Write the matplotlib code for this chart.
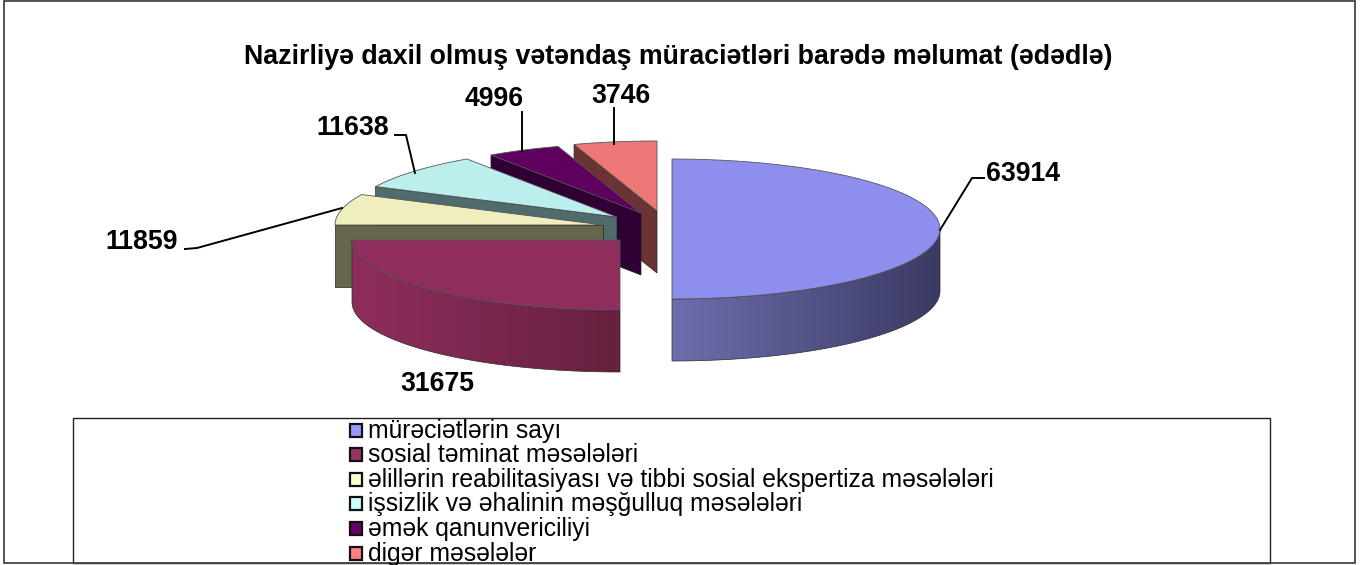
#!/usr/bin/env python3
# -*- coding: utf-8 -*-

"""Exploded pseudo-3D pie of citizen applications, drawn on a pixel-sized axes."""

import numpy as np
import matplotlib
matplotlib.use('Agg')
import matplotlib.pyplot as plt
from matplotlib.colors import LinearSegmentedColormap
from matplotlib.patches import Polygon, Rectangle

plt.rcParams['font.family'] = ['Liberation Sans', 'DejaVu Sans']

title = 'Nazirliyə daxil olmuş vətəndaş müraciətləri barədə məlumat (ədədlə)'
categories = [
    'mürəciətlərin sayı',
    'sosial təminat məsələləri',
    'əlillərin reabilitasiyası və tibbi sosial ekspertiza məsələləri',
    'işsizlik və əhalinin məşğulluq məsələləri',
    'əmək qanunvericiliyi',
    'digər məsələlər',
]
values = [63914, 31675, 11859, 11638, 4996, 3746]

# styling and layout, in pixels of the 1368x565 picture
legend_colors = ['#9999FF', '#993366', '#FFFFCC', '#CCFFFF', '#660066', '#FF8080']
top_colors = ['#8E8EEE', '#8F2D5C', '#EEEEBE', '#BDEEEE', '#5F005F', '#EE7777']
wall_colors = ['#3C3C66', '#6B2548', '#66664D', '#4F6B6B', '#2E0033', '#6B3333']
apex_x = [672, 620, 603, 617, 641, 657]
apex_y = [229, 240, 225, 217, 213, 211]
RX, RY, DEPTH = 268, 70, 62
label_xy = [(1023, 174), (437, 384), (142, 242), (353, 128), (494, 99), (621, 96)]
leaders = [
    [(940, 230), (972, 178), (984, 178)],
    None,
    [(185, 249), (197, 248), (342, 208)],
    [(395, 135), (406, 135), (415, 173)],
    [(522, 112), (522, 151)],
    [(614, 108), (614, 144)],
]
legend_y = [430, 454, 479, 503, 528, 553]


def warp(theta):
    """Back-left quadrant is stretched by the 3D view of the original chart."""
    theta = np.asarray(theta, dtype=float)
    back = 360 - np.minimum(theta, 360)
    stretched = 90 * (np.clip(back, 0, 90) / 90) ** 0.75
    return np.where(theta >= 269, 360 - stretched, theta)


def rim(cx, cy, start, end, n=80):
    t = np.radians(warp(np.linspace(start, end, n)))
    return np.column_stack([cx + RX * np.sin(t), cy - RY * np.cos(t)])


def shaded_wall(ax, pts, left, right, z):
    """Fill a polygon with a horizontal gradient."""
    cmap = LinearSegmentedColormap.from_list('wall', [left, right])
    x0, x1 = pts[:, 0].min(), pts[:, 0].max()
    y0, y1 = pts[:, 1].min(), pts[:, 1].max()
    im = ax.imshow(np.linspace(0, 1, 256)[None, :], cmap=cmap, aspect='auto',
                   extent=(x0, x1, y1, y0), zorder=z)
    clip = Polygon(pts, closed=True, transform=ax.transData)
    im.set_clip_path(clip)
    ax.add_patch(Polygon(pts, closed=True, fill=False, ec='#2a2a2a', lw=0.5, zorder=z + 0.1))


fig = plt.figure(figsize=(13.68, 5.65), dpi=100)
ax = fig.add_axes([0, 0, 1, 1])

edges = np.concatenate([[0], np.cumsum(values)]) / sum(values) * 360

# painter's order: the back slices first
for i in [5, 4, 3, 2, 1, 0]:
    z = 10 + (5 - i) * 2
    cx, cy = apex_x[i], apex_y[i]
    arc = rim(cx, cy, edges[i], edges[i + 1])
    if i == 0:
        lower = rim(cx, cy, 90, 180)
        wall = np.vstack([lower, lower[::-1] + [0, DEPTH]])
        shaded_wall(ax, wall, '#6E6EAE', '#3A3A63', z)
    elif i == 1:
        lower = rim(cx, cy, edges[1], edges[2])
        wall = np.vstack([lower, lower[::-1] + [0, DEPTH]])
        shaded_wall(ax, wall, '#8F2D5C', '#66213F', z)
    else:
        corner = arc[0]
        wall = np.array([corner, (cx, cy), (cx, cy + DEPTH), corner + [0, DEPTH]])
        ax.add_patch(Polygon(wall, closed=True, fc=wall_colors[i], ec='#222222', lw=0.5, zorder=z))
    face = np.vstack([[(cx, cy)], arc])
    ax.add_patch(Polygon(face, closed=True, fc=top_colors[i], ec='#555555', lw=0.6, zorder=z + 1))

for value, (lx, ly), line in zip(values, label_xy, leaders):
    ax.text(lx, ly, str(value), ha='center', va='center', fontsize=19.2, fontweight='bold', zorder=30)
    if line:
        xs, ys = zip(*line)
        ax.plot(xs, ys, color='black', lw=1.4, zorder=29)

ax.text(678.5, 56.5, title, ha='center', va='center', fontsize=19.3, fontweight='bold', zorder=30)

# legend box and chart frame
ax.add_patch(Rectangle((73, 417.5), 1197, 145.5, fill=False, ec='#222222', lw=1, zorder=5))
ax.add_patch(Rectangle((4, 1), 1351, 562, fill=False, ec='#444444', lw=1.3, zorder=5))

for name, color, y in zip(categories, legend_colors, legend_y):
    ax.add_patch(Rectangle((349.5, y - 6.5), 12.5, 13, fc=color, ec='#111111', lw=1.6, zorder=20))
    ax.text(368, y + 1, name, ha='left', va='center', fontsize=17.8, zorder=20)

ax.set_xlim(0, 1368)
ax.set_ylim(565, 0)
ax.axis('off')

fig.savefig('out.png', dpi=100)
